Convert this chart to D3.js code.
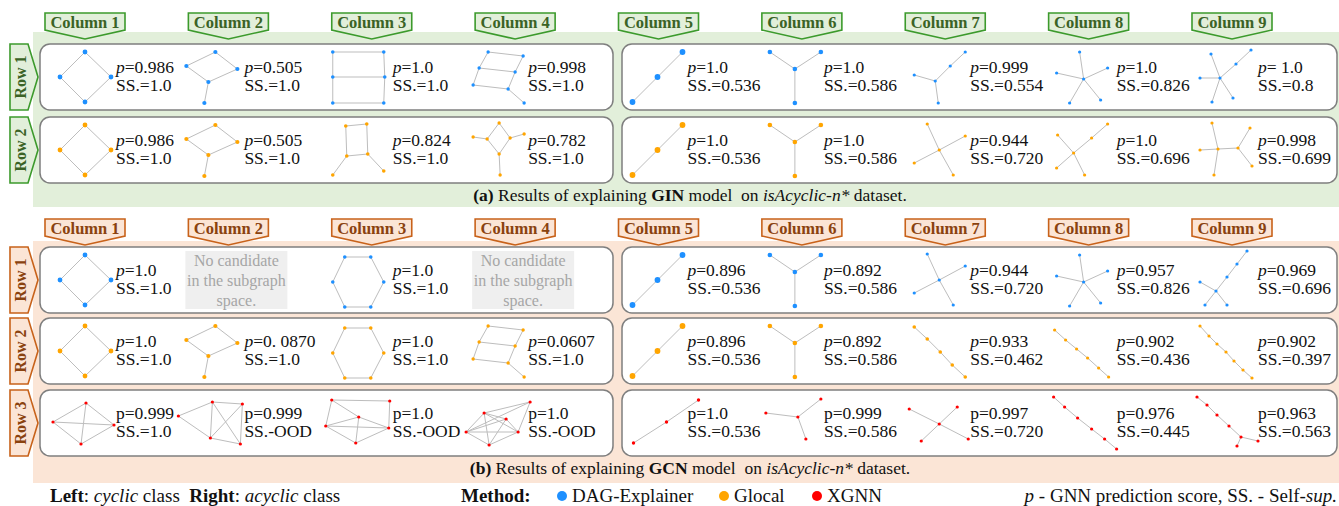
<!DOCTYPE html>
<html>
<head>
<meta charset="utf-8">
<script src="https://cdn.jsdelivr.net/npm/d3@7"></script>
<style>
  body { margin: 0; background: #fff; }
  svg { display: block; }
  text { font-family: 'Liberation Serif', 'Times New Roman', 'DejaVu Serif', serif; }
</style>
</head>
<body>
<svg id="fig" width="1339" height="506" font-family="Liberation Serif, DejaVu Serif, serif"></svg>
<script>
// ---- labels ----
var columns = ["Column 1", "Column 2", "Column 3", "Column 4", "Column 5", "Column 6", "Column 7", "Column 8", "Column 9"]
var rowsA = ["Row 1", "Row 2"]
var rowsB = ["Row 1", "Row 2", "Row 3"]
var methods = ["DAG-Explainer", "Glocal", "XGNN"]

// ---- scores (null = no candidate in the subgraph space) ----
var pA = [["0.986", "0.505", "1.0", "0.998", "1.0", "1.0", "0.999", "1.0", " 1.0"],
          ["0.986", "0.505", "0.824", "0.782", "1.0", "1.0", "0.944", "1.0", "0.998"]]
var ssA = [["1.0", "1.0", "1.0", "1.0", "0.536", "0.586", "0.554", "0.826", "0.8"],
           ["1.0", "1.0", "1.0", "1.0", "0.536", "0.586", "0.720", "0.696", "0.699"]]
var pB = [["1.0", null, "1.0", null, "0.896", "0.892", "0.944", "0.957", "0.969"],
          ["1.0", "0. 0870", "1.0", "0.0607", "0.896", "0.892", "0.933", "0.902", "0.902"],
          ["0.999", "0.999", "1.0", "1.0", "1.0", "0.999", "0.997", "0.976", "0.963"]]
var ssB = [["1.0", null, "1.0", null, "0.536", "0.586", "0.720", "0.826", "0.696"],
           ["1.0", "1.0", "1.0", "1.0", "0.536", "0.586", "0.462", "0.436", "0.397"],
           ["1.0", "OOD", "OOD", "OOD", "0.536", "0.586", "0.720", "0.445", "0.563"]]

// ---- explanation graphs: node coords in a ~52 unit frame, edges are index pairs ----
var diamond = { nodes: [[25,0],[0,25],[51,25],[25,50]], edges: [[0,1],[0,2],[1,3],[2,3]] }
var kite = { nodes: [[29,0],[0,14],[51,17],[22,30],[18,51]], edges: [[0,1],[0,2],[1,3],[2,3],[3,4]] }
var ladder = { nodes: [[0,0],[51,0],[0,25],[52,25],[0,51],[51,51]],
               edges: [[0,1],[2,3],[4,5],[0,2],[2,4],[1,3],[3,5]] }
var ladderTail = { nodes: [[15,0],[50,4],[6,16],[42,20],[0,33],[35,37],[51,51]],
                   edges: [[0,1],[2,3],[4,5],[0,2],[2,4],[1,3],[3,5],[5,6]] }
var boxLegs = { nodes: [[13,1],[34,-1],[14,31],[35,29],[0,50],[51,46]],
                edges: [[0,1],[0,2],[1,3],[2,3],[2,4],[3,5]] }
var diamondArms = { nodes: [[26,-2],[14,14],[37,13],[26,29],[0,12],[51,9],[27,50]],
                    edges: [[0,1],[0,2],[1,3],[2,3],[1,4],[2,5],[3,6]] }
var path3 = { nodes: [[0,50],[25,25],[50,0]], edges: [[0,1],[1,2]] }
var star3 = { nodes: [[25,17],[0,0],[51,0],[25,51]], edges: [[0,1],[0,2],[0,3]] }
var spider7 = { nodes: [[51,0],[36,14],[21,29],[0,23],[24,51]], edges: [[0,1],[1,2],[2,3],[2,4]] }
var cross = { nodes: [[25,25],[13,-1],[51,11],[0,38],[39,50]], edges: [[0,1],[0,2],[0,3],[0,4]] }
var star5 = { nodes: [[29,27],[25,0],[53,16],[2,21],[15,51],[46,48]], edges: [[0,1],[0,2],[0,3],[0,4],[0,5]] }
var starChain = { nodes: [[19,28],[3,10],[37,13],[53,-1],[2,43],[30,50]], edges: [[0,1],[0,2],[2,3],[0,4],[0,5]] }
var spider9 = { nodes: [[21,26],[12,2],[1,26],[13,50],[34,46],[37,12],[52,-2]],
                edges: [[0,1],[0,2],[0,3],[0,4],[0,5],[5,6]] }
var twoHubs = { nodes: [[19,24],[39,23],[13,-2],[1,25],[15,50],[51,3],[53,41]],
                edges: [[0,1],[0,2],[0,3],[0,4],[1,5],[1,6]] }
var hexagon = { nodes: [[12,2],[38,2],[51,27],[38,52],[12,52],[0,27]],
                edges: [[0,1],[1,2],[2,3],[3,4],[4,5],[5,0]] }
var chainSpider = { nodes: [[48,-4],[38,9],[28,22],[17,36],[1,27],[6,50],[28,50]],
                    edges: [[0,1],[1,2],[2,3],[3,4],[3,5],[3,6]] }
var path5 = { nodes: [[0,1],[13,13],[26,26],[38,39],[51,51]], edges: [[0,1],[1,2],[2,3],[3,4]] }
var path6 = { nodes: [[0,4],[11,14],[22,23],[33,32],[44,42],[54,51]], edges: [[0,1],[1,2],[2,3],[3,4],[4,5]] }
var path7 = { nodes: [[1,0],[10,10],[18,18],[27,26],[35,35],[44,44],[53,52]],
              edges: [[0,1],[1,2],[2,3],[3,4],[4,5],[5,6]] }
var k4 = { nodes: [[26,5],[-7,24],[54,27],[21,46]], edges: [[0,1],[0,2],[0,3],[1,2],[1,3],[2,3]] }
var dense5 = { nodes: [[-8,18],[26,4],[56,6],[24,40],[54,46]],
               edges: [[0,1],[0,3],[1,2],[1,3],[1,4],[2,3],[2,4],[3,4]] }
var dense6a = { nodes: [[-1,2],[57,3],[26,19],[-7,28],[56,30],[23,45]],
                edges: [[0,1],[0,2],[0,3],[1,4],[2,3],[2,4],[2,5],[3,4],[3,5],[4,5]] }
var dense6b = { nodes: [[11,15],[57,4],[33,21],[-7,34],[45,34],[16,47]],
                edges: [[0,1],[0,2],[0,3],[0,4],[0,5],[1,4],[1,3],[2,3],[2,4],[2,5],[3,4],[3,5],[4,5]] }
var path3red = { nodes: [[1,45],[34,24],[66,2]], edges: [[0,1],[1,2]] }
var tripod = { nodes: [[-4,15],[28,19],[51,1],[36,41]], edges: [[0,1],[1,2],[1,3]] }
var crossRed = { nodes: [[25,26],[-5,11],[43,9],[7,43],[54,41]], edges: [[0,1],[0,2],[0,3],[0,4]] }
var path6red = { nodes: [[-1,-1],[10,9],[23,20],[37,31],[50,41],[62,51]], edges: [[0,1],[1,2],[2,3],[3,4],[4,5]] }
var chainFork = { nodes: [[-2,-1],[8,7],[18,17],[30,28],[42,39],[59,43],[38,48]],
                  edges: [[0,1],[1,2],[2,3],[3,4],[4,5],[4,6]] }

var shapesA = [[diamond, kite, ladder, ladderTail, path3, star3, spider7, star5, spider9],
               [diamond, kite, boxLegs, diamondArms, path3, star3, cross, starChain, twoHubs]]
var shapesB = [[diamond, null, hexagon, null, path3, star3, cross, star5, chainSpider],
               [diamond, kite, hexagon, ladderTail, path3, star3, path5, path6, path7],
               [k4, dense5, dense6a, dense6b, path3red, tripod, crossRed, path6red, chainFork]]

// ---- styling ----
var SERIF = "'Liberation Serif', 'Times New Roman', 'DejaVu Serif', serif"
var methodColor = ["#1e90ff", "#ffa500", "#ff0000"]
var nodeR = new Map([[diamond, 2.4], [kite, 2.1], [ladder, 1.8], [ladderTail, 1.7], [boxLegs, 1.8],
  [diamondArms, 1.7], [path3, 2.9], [star3, 2.3], [hexagon, 1.8], [path5, 1.8], [path3red, 1.7]])

var svg = d3.select("#fig")
var colX = d3.scaleLinear().domain([0, 8]).range([85, 1232])   // tab centres
var graphOff = [-25, -42, -39, -42, -26, -32, -31, -34, -33]
var textOff = [31, 16, 21, 13, 29, 22, 25, 28, 26]

function txt(sel) { return sel.append("text").style("font-family", SERIF) }

function drawPanel(cfg) {
  var g = svg.append("g")
  g.append("rect").attr("x", 33).attr("y", cfg.bgTop).attr("width", 1306)
    .attr("height", cfg.bgBottom - cfg.bgTop).attr("fill", cfg.bg)

  // column tabs
  columns.forEach(function(c, i) {
    var cx = colX(i), t = cfg.tabTop
    g.append("path")
      .attr("d", "M" + (cx - 40) + "," + t + "H" + (cx + 40) + "V" + (t + 17) + "L" + cx + "," + (t + 26) +
        "L" + (cx - 40) + "," + (t + 17) + "Z")
      .attr("fill", cfg.bg).attr("stroke", cfg.stroke).attr("stroke-width", 1.6)
    txt(g).attr("x", cx).attr("y", t + 15).attr("text-anchor", "middle")
      .attr("font-size", 16.5).attr("font-weight", "bold").attr("fill", cfg.ink).text(c)
  })

  cfg.rows.forEach(function(rName, r) {
    var top = cfg.boxTops[r], bot = top + 66, mid = (top + bot) / 2
    // row tab
    g.append("path")
      .attr("d", "M10," + top + "H28L38," + mid + "L28," + bot + "H10Z")
      .attr("fill", cfg.bg).attr("stroke", cfg.stroke).attr("stroke-width", 1.6)
    txt(g).attr("transform", "translate(26," + mid + ") rotate(-90)")
      .attr("text-anchor", "middle").attr("font-size", 16).attr("font-weight", "bold")
      .attr("fill", cfg.ink).text(rName)
    // rounded boxes (left: cyclic, right: acyclic)
    g.append("rect").attr("x", 40).attr("y", top).attr("width", 573).attr("height", 66)
      .attr("rx", 10).attr("fill", "#fff").attr("stroke", "#7f7f7f").attr("stroke-width", 1.5)
    g.append("rect").attr("x", 622).attr("y", top).attr("width", 715).attr("height", 66)
      .attr("rx", 10).attr("fill", "#fff").attr("stroke", "#7f7f7f").attr("stroke-width", 1.5)

    var m = cfg.method[r]
    columns.forEach(function(c, i) {
      var shape = cfg.shapes[r][i]
      var tx = colX(i) + textOff[i]
      if (shape === null) {
        var bx = colX(i) + 8
        g.append("rect").attr("x", bx - 51).attr("y", top + 4).attr("width", 102).attr("height", 58)
          .attr("fill", "#efefef")
        ;["No candidate", "in the subgraph", "space."].forEach(function(line, k) {
          txt(g).attr("x", bx).attr("y", top + 19 + k * 20).attr("text-anchor", "middle")
            .attr("font-size", 16).attr("fill", "#a6a6a6").text(line)
        })
        return
      }
      var gx = colX(i) + graphOff[i], gy = top + 8
      var xs = d3.scaleLinear().domain([0, 52]).range([gx, gx + 52])
      var ys = d3.scaleLinear().domain([0, 52]).range([gy, gy + 52])
      var cell = g.append("g")
      cell.selectAll("line").data(shape.edges).join("line")
        .attr("x1", function(e) { return xs(shape.nodes[e[0]][0]) })
        .attr("y1", function(e) { return ys(shape.nodes[e[0]][1]) })
        .attr("x2", function(e) { return xs(shape.nodes[e[1]][0]) })
        .attr("y2", function(e) { return ys(shape.nodes[e[1]][1]) })
        .attr("stroke", "#bdbdbd").attr("stroke-width", 1)
      cell.selectAll("circle").data(shape.nodes).join("circle")
        .attr("cx", function(d) { return xs(d[0]) })
        .attr("cy", function(d) { return ys(d[1]) })
        .attr("r", nodeR.get(shape) || 1.6)
        .attr("fill", methodColor[m])

      var p = cfg.p[r][i], ss = cfg.ss[r][i]
      var t1 = txt(g).attr("x", tx).attr("y", top + 29).attr("font-size", 17.5).attr("fill", "#111")
      t1.append("tspan").attr("font-style", m === 2 ? "normal" : "italic").text("p")
      t1.append("tspan").text("=" + p)
      txt(g).attr("x", tx).attr("y", top + 47).attr("font-size", 17.5).attr("fill", "#111")
        .text("SS." + (ss === "OOD" ? "-OOD" : "=" + ss))
    })
  })

  // caption
  var cap = txt(g).attr("x", 690).attr("y", cfg.captionY).attr("text-anchor", "middle")
    .attr("font-size", 17.5).attr("fill", "#111")
  cfg.caption.forEach(function(s) {
    cap.append("tspan").attr("font-weight", s[1] === "b" ? "bold" : "normal")
      .attr("font-style", s[1] === "i" ? "italic" : "normal").text(s[0])
  })
}

drawPanel({
  bgTop: 32, bgBottom: 207, tabTop: 13, boxTops: [44, 117], rows: rowsA,
  p: pA, ss: ssA, shapes: shapesA, method: [0, 1],
  bg: "#e2efda", stroke: "#3c9a2c", ink: "#3b6326", captionY: 201,
  caption: [["(a)", "b"], [" Results of explaining ", ""], ["GIN", "b"], [" model\u00a0 on ", ""],
            ["isAcyclic-n*", "i"], [" dataset.", ""]]
})
drawPanel({
  bgTop: 241, bgBottom: 483, tabTop: 219, boxTops: [247, 318, 390], rows: rowsB,
  p: pB, ss: ssB, shapes: shapesB, method: [0, 1, 2],
  bg: "#fbe5d6", stroke: "#c8621a", ink: "#8a420f", captionY: 474,
  caption: [["(b)", "b"], [" Results of explaining ", ""], ["GCN", "b"], [" model\u00a0 on ", ""],
            ["isAcyclic-n*", "i"], [" dataset.", ""]]
})

// ---- bottom legend ----
var leg = svg.append("g").attr("font-size", 19).attr("fill", "#111")
var l1 = txt(leg).attr("x", 50).attr("y", 502)
;[["Left", "b"], [": ", ""], ["cyclic", "i"], [" class\u00a0 ", ""], ["Right", "b"], [": ", ""],
  ["acyclic", "i"], [" class", ""]].forEach(function(s) {
  l1.append("tspan").attr("font-weight", s[1] === "b" ? "bold" : "normal")
    .attr("font-style", s[1] === "i" ? "italic" : "normal").text(s[0])
})
txt(leg).attr("x", 461).attr("y", 502).attr("font-weight", "bold").text("Method:")
var legX = d3.scaleOrdinal().domain(methods).range([562, 724, 817])
methods.forEach(function(name, k) {
  leg.append("circle").attr("cx", legX(name)).attr("cy", 496).attr("r", 5).attr("fill", methodColor[k])
  txt(leg).attr("x", legX(name) + 10).attr("y", 502).text(name)
})
var l3 = txt(leg).attr("x", 1337).attr("y", 502).attr("text-anchor", "end")
;[["p", "i"], [" - GNN prediction score, SS. - Self-", ""], ["sup.", "i"]].forEach(function(s) {
  l3.append("tspan").attr("font-style", s[1] === "i" ? "italic" : "normal").text(s[0])
})
</script>
</body>
</html>
